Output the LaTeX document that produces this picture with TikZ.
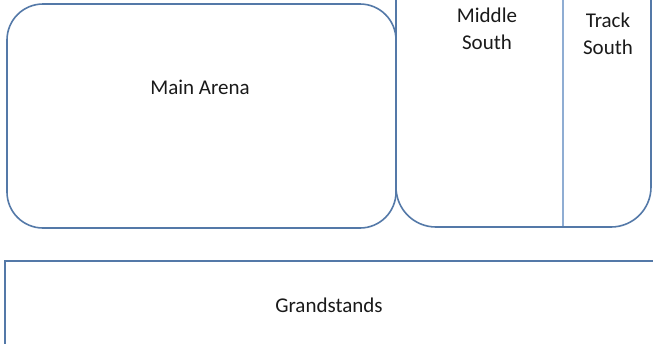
\documentclass[tikz,border=0pt]{standalone}
\usepackage{fontspec}
\setmainfont{Carlito}
\definecolor{edge}{HTML}{5479A8}
\definecolor{divider}{HTML}{8FADD3}
\definecolor{txt}{HTML}{1A1A1A}
\begin{document}
\begin{tikzpicture}[x=1pt,y=-1pt,
  box/.style={draw=edge,line width=1.6pt},
  lbl/.style={font=\fontsize{21}{27}\selectfont,text=txt,align=center,inner sep=0pt}]
\useasboundingbox (0,0) rectangle (653,343);
\clip (0,0) rectangle (653,343);
\fill[white] (0,0) rectangle (653,343);
\draw[box,rounded corners=36pt] (7,4) rectangle (396,228);
\draw[box,rounded corners=40pt] (396,-50) rectangle (651,227);
\coordinate (dtop) at (563,-5);
\coordinate (dbot) at (563,226);
\draw[divider,line width=1.1pt] (dtop) -- (dbot);
\draw[box,line width=1.4pt] (5,261) rectangle (700,400);
\node[lbl] (arena) at (200,87) {Main Arena};
\node[lbl] (middle) at (487,29) {Middle\\South};
\node[lbl] (track) at (608,34) {Track\\South};
\node[lbl] (grand) at (329,305) {Grandstands};
\end{tikzpicture}
\end{document}
